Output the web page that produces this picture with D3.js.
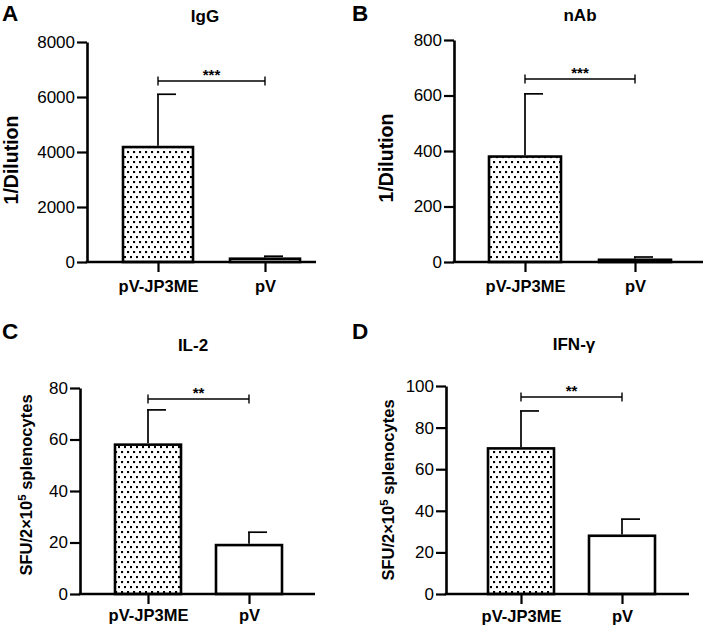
<!DOCTYPE html>
<html><head><meta charset="utf-8">
<script src="https://cdn.jsdelivr.net/npm/d3@7/dist/d3.min.js"></script>
<style>
body{margin:0;background:#fff;}
text{font-family:"Liberation Sans",Arial,sans-serif;}
</style></head>
<body><svg id="c" width="709" height="631"></svg>
<script>
const groups = ["pV-JP3ME", "pV"];
const iggMean = [4180, 120];
const iggUpper = [6100, 210];
const nabMean = [380, 8];
const nabUpper = [606, 18];
const il2Mean = [58, 19];
const il2Upper = [71.5, 24];
const ifnMean = [70, 28];
const ifnUpper = [88, 36];
const iggTicks = [0, 2000, 4000, 6000, 8000];
const nabTicks = [0, 200, 400, 600, 800];
const il2Ticks = [0, 20, 40, 60, 80];
const ifnTicks = [0, 20, 40, 60, 80, 100];
const sigLabels = ["***", "***", "**", "**"];

const panels = [
  {letter:"A", title:"IgG", mean:iggMean, upper:iggUpper, ticks:iggTicks, sig:sigLabels[0],
   left:87, right:316, y0:262, yTop:42, c1:158, c2:265, bw:70, lx:[2,21], tx:205, ty:22,
   ylab:"1/Dilution", ylx:17.5, yly:160, ylfs:19.5, xpad:8, br:81},
  {letter:"B", title:"nAb", mean:nabMean, upper:nabUpper, ticks:nabTicks, sig:sigLabels[1],
   left:454, right:703, y0:262, yTop:40, c1:525, c2:635, bw:72, lx:[352,21], tx:580, ty:21,
   ylab:"1/Dilution", ylx:393, yly:158, ylfs:19.5, xpad:8, br:79},
  {letter:"C", title:"IL-2", mean:il2Mean, upper:il2Upper, ticks:il2Ticks, sig:sigLabels[2],
   left:80, right:315, y0:594, yTop:388, c1:148, c2:249, bw:66, lx:[2,339], tx:193, ty:351,
   ylab:"sfu", ylx:32, yly:485, ylfs:16.5, xpad:5, br:399},
  {letter:"D", title:"IFN-γ", mean:ifnMean, upper:ifnUpper, ticks:ifnTicks, sig:sigLabels[3],
   left:446, right:689, y0:594, yTop:386, c1:521, c2:622, bw:66, lx:[352,339], tx:574, ty:350,
   ylab:"sfu", ylx:394, yly:490, ylfs:16.5, xpad:6, br:397}
];

const svg = d3.select("#c");
const defs = svg.append("defs");
const pat = defs.append("pattern").attr("id","dots").attr("patternUnits","userSpaceOnUse")
  .attr("width",6).attr("height",10);
pat.append("rect").attr("width",6).attr("height",10).attr("fill","#fff");
pat.append("rect").attr("x",1).attr("y",1).attr("width",2.1).attr("height",2.1).attr("fill","#000");
pat.append("rect").attr("x",4).attr("y",6).attr("width",2.1).attr("height",2.1).attr("fill","#000");

panels.forEach(p => {
  const g = svg.append("g");
  const y = d3.scaleLinear().domain([0, d3.max(p.ticks)]).range([p.y0, p.yTop]);
  const x = d3.scalePoint().domain(groups).range([p.c1, p.c2]);

  g.append("text").attr("x",p.lx[0]).attr("y",p.lx[1]).attr("font-size",22.5)
    .attr("font-weight","bold").text(p.letter);
  g.append("text").attr("x",p.tx).attr("y",p.ty).attr("text-anchor","middle")
    .attr("font-size",17).attr("font-weight","bold").text(p.title);

  g.selectAll("rect.bar").data(groups).join("rect").attr("class","bar")
    .attr("x", d => x(d) - p.bw/2).attr("width", p.bw)
    .attr("y", (d,i) => y(p.mean[i])).attr("height", (d,i) => y(0) - y(p.mean[i]))
    .attr("fill", (d,i) => i === 0 ? "url(#dots)" : "#fff")
    .attr("stroke","#000").attr("stroke-width",2.6);

  g.selectAll("line.err").data(groups).join("line").attr("class","err")
    .attr("x1", d => x(d)).attr("x2", d => x(d))
    .attr("y1", (d,i) => y(p.mean[i]) - 1.3).attr("y2", (d,i) => y(p.upper[i]))
    .attr("stroke","#000").attr("stroke-width",1.7);
  g.selectAll("line.cap").data(groups).join("line").attr("class","cap")
    .attr("x1", d => x(d) - 1).attr("x2", d => x(d) + 18)
    .attr("y1", (d,i) => y(p.upper[i])).attr("y2", (d,i) => y(p.upper[i]))
    .attr("stroke","#000").attr("stroke-width",1.7);

  const ya = g.append("g").attr("transform",`translate(${p.left},0)`)
    .call(d3.axisLeft(y).tickValues(p.ticks).tickSize(10).tickPadding(2).tickSizeOuter(0).tickFormat(d3.format("d")));
  ya.select(".domain").attr("stroke-width",2.6);
  ya.selectAll(".tick line").attr("stroke-width",2.2);
  ya.selectAll(".tick text").attr("font-size",17).attr("font-family","Liberation Sans, Arial, sans-serif").attr("fill","#000");

  const xa = g.append("g").attr("transform",`translate(0,${p.y0})`)
    .call(d3.axisBottom(x).tickSize(10).tickPadding(p.xpad).tickSizeOuter(0));
  xa.select(".domain").remove();
  xa.selectAll(".tick line").attr("stroke-width",2.2);
  xa.selectAll(".tick text").attr("font-size",16.5).attr("font-weight","bold")
    .attr("font-family","Liberation Sans, Arial, sans-serif").attr("fill","#000");
  g.append("line").attr("x1",p.left - 1.3).attr("x2",p.right).attr("y1",p.y0).attr("y2",p.y0)
    .attr("stroke","#000").attr("stroke-width",2.6);

  const yl = g.append("text").attr("transform",`translate(${p.ylx},${p.yly}) rotate(-90)`)
    .attr("text-anchor","middle").attr("font-size",p.ylfs).attr("font-weight","bold");
  if (p.ylab === "sfu") {
    yl.append("tspan").text("SFU/2×10");
    yl.append("tspan").attr("dy",-6).attr("font-size",11.5).text("5");
    yl.append("tspan").attr("dy",6).text(" splenocytes");
  } else {
    yl.text(p.ylab);
  }

  const bx1 = x(groups[0]), bx2 = x(groups[1]);
  g.append("line").attr("x1",bx1).attr("x2",bx2).attr("y1",p.br).attr("y2",p.br)
    .attr("stroke","#000").attr("stroke-width",1.4);
  [bx1,bx2].forEach(bx => g.append("line").attr("x1",bx).attr("x2",bx)
    .attr("y1",p.br-4.5).attr("y2",p.br+4.5).attr("stroke","#000").attr("stroke-width",1.4));
  g.append("text").attr("x",(bx1+bx2)/2).attr("y",p.br-1).attr("text-anchor","middle")
    .attr("font-size",15).attr("font-weight","bold").text(p.sig);
});
</script></body></html>
